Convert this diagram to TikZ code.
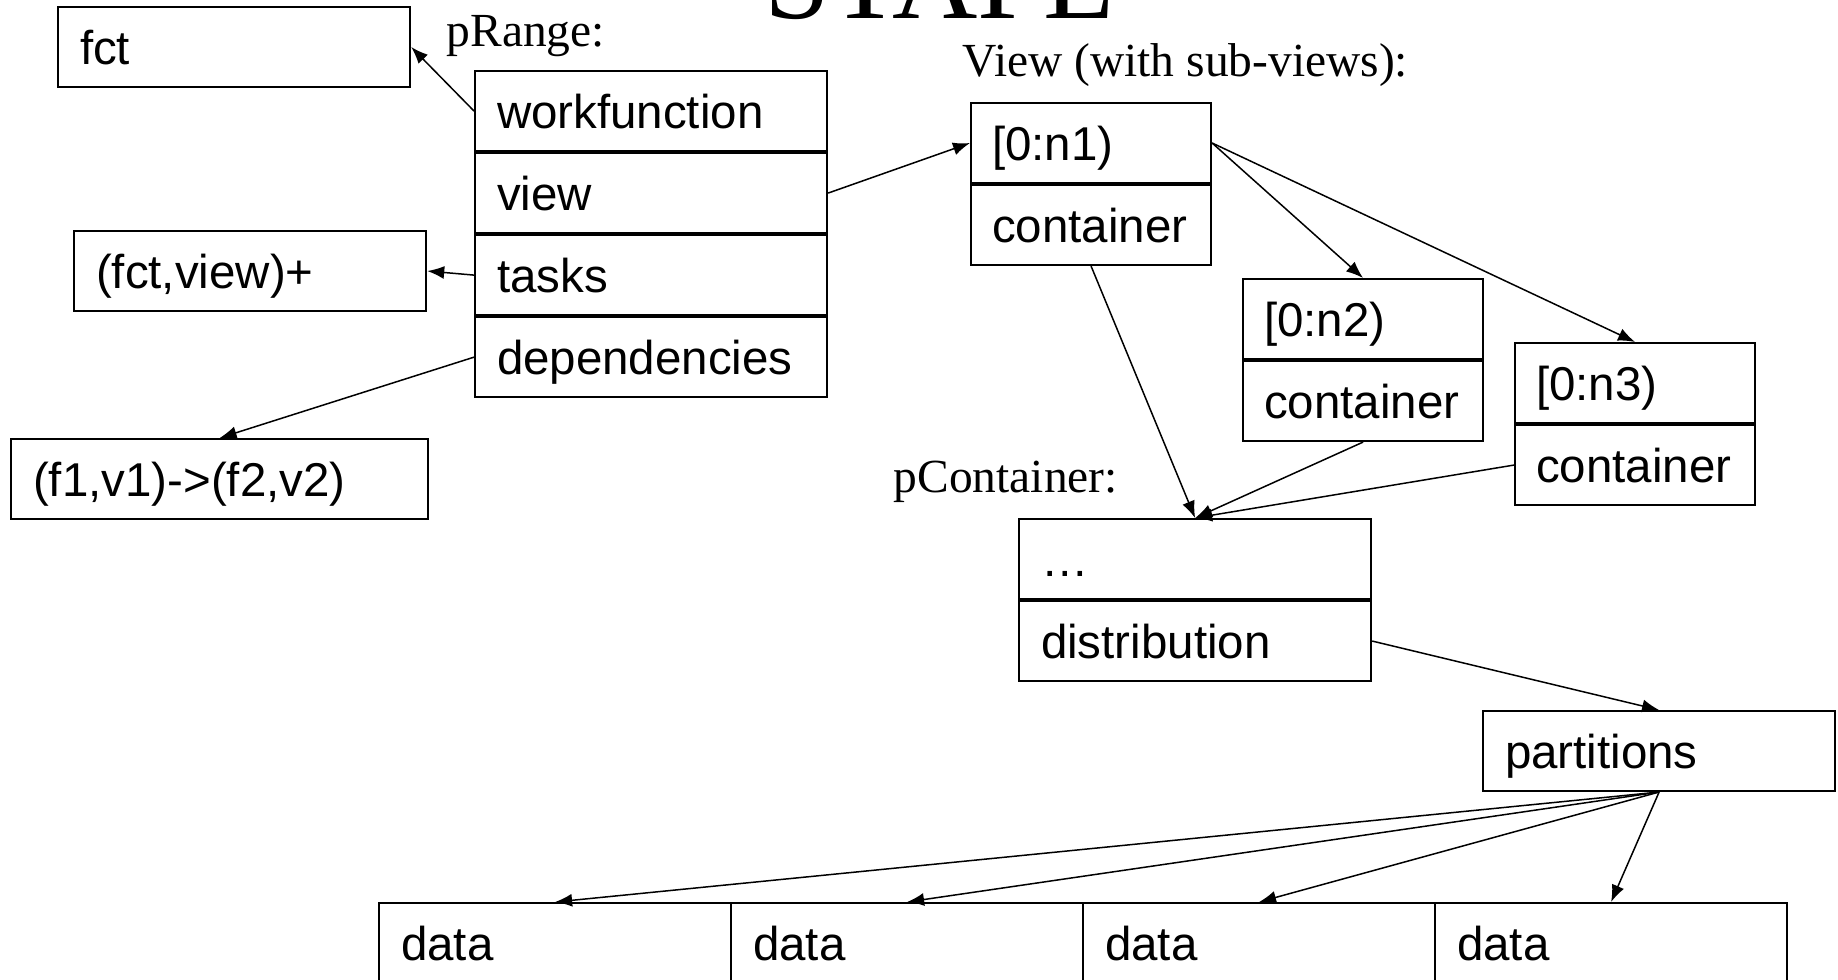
\documentclass[tikz,border=0pt]{standalone}
\usepackage{fontspec}
\setmainfont{Liberation Serif}
\newfontfamily\arialfont{Liberation Sans}
\usetikzlibrary{arrows.meta,positioning}

\tikzset{
  cell/.style={draw, line width=0.02cm, rectangle, anchor=north west,
    minimum width=3.52cm, minimum height=0.8cm, text width=3.08cm,
    inner xsep=0.22cm, inner ysep=0pt, text height=0.34cm, text depth=0pt,
    align=left, font=\arialfont\fontsize{13.5}{16}\selectfont},
  smallcell/.style={cell, minimum width=2.40cm, text width=1.98cm, inner xsep=0.21cm},
  lbl/.style={anchor=base west, inner sep=0pt, font=\fontsize{13.5}{16}\selectfont},
  link/.style={-{Latex[length=0.17cm,width=0.13cm]}, line width=0.015cm},
}

\begin{document}
\begin{tikzpicture}[x=0.01cm, y=-0.01cm]
				\useasboundingbox (0,0) rectangle (1838,980);
				%% Labels ------
				\node[anchor=base, inner sep=0pt, font=\fontsize{33.6}{40}\selectfont] (title) at (940,19) {STAPL};
				\node[lbl] (prangelbl) at (446,47) {pRange:};
				\node[lbl] (viewlbl) at (962,77) {View (with sub-views):};
				\node[lbl] (pcontlbl) at (893,493) {pContainer:};
				%% pRange ------
				\node[cell] (fct) at (57,6) {fct};
				\node[cell] (work) at (474,70) {workfunction};
				\node[cell, below=0pt of work] (view) {view};
				\node[cell, below=0pt of view] (tasks) {tasks};
				\node[cell, below=0pt of tasks] (deps) {dependencies};
				\node[cell] (pairs) at (73,230) {(fct,view)+};
				\node[cell, minimum width=4.17cm, text width=3.73cm] (edge) at (10,438) {(f1,v1)->(f2,v2)};
				%% Views ------
				\node[smallcell] (r1) at (970,102) {[0:n1)};
				\node[smallcell, below=0pt of r1] (c1) {container};
				\node[smallcell] (r2) at (1242,278) {[0:n2)};
				\node[smallcell, below=0pt of r2] (c2) {container};
				\node[smallcell] (r3) at (1514,342) {[0:n3)};
				\node[smallcell, below=0pt of r3] (c3) {container};
				%% pContainer ------
				\node[cell] (etc) at (1018,518) {…};
				\node[cell, below=0pt of etc] (dist) {distribution};
				\node[cell] (parts) at (1482,710) {partitions};
				\foreach \i in {1,...,4}
					\node[cell] (d\i) at ({26+352*\i},902) {data};
				%% Edges ---------
				\draw[link] (work.west) -- (fct.east);
				\draw[link] (view.east) -- (r1.west);
				\draw[link] (tasks.west) -- (pairs.east);
				\draw[link] (deps.west) -- (edge.north);
				\draw[link] (r1.east) -- (r2.north);
				\draw[link] (r1.east) -- (r3.north);
				\draw[link] (c1.south) -- (etc.north);
				\draw[link] (c2.south) -- (etc.north);
				\draw[link] (c3.west) -- (etc.north);
				\draw[link] (dist.east) -- (parts.north);
				\foreach \i in {1,...,4}
					\draw[link] (parts.south) -- (d\i.north);
			\end{tikzpicture}
\end{document}
